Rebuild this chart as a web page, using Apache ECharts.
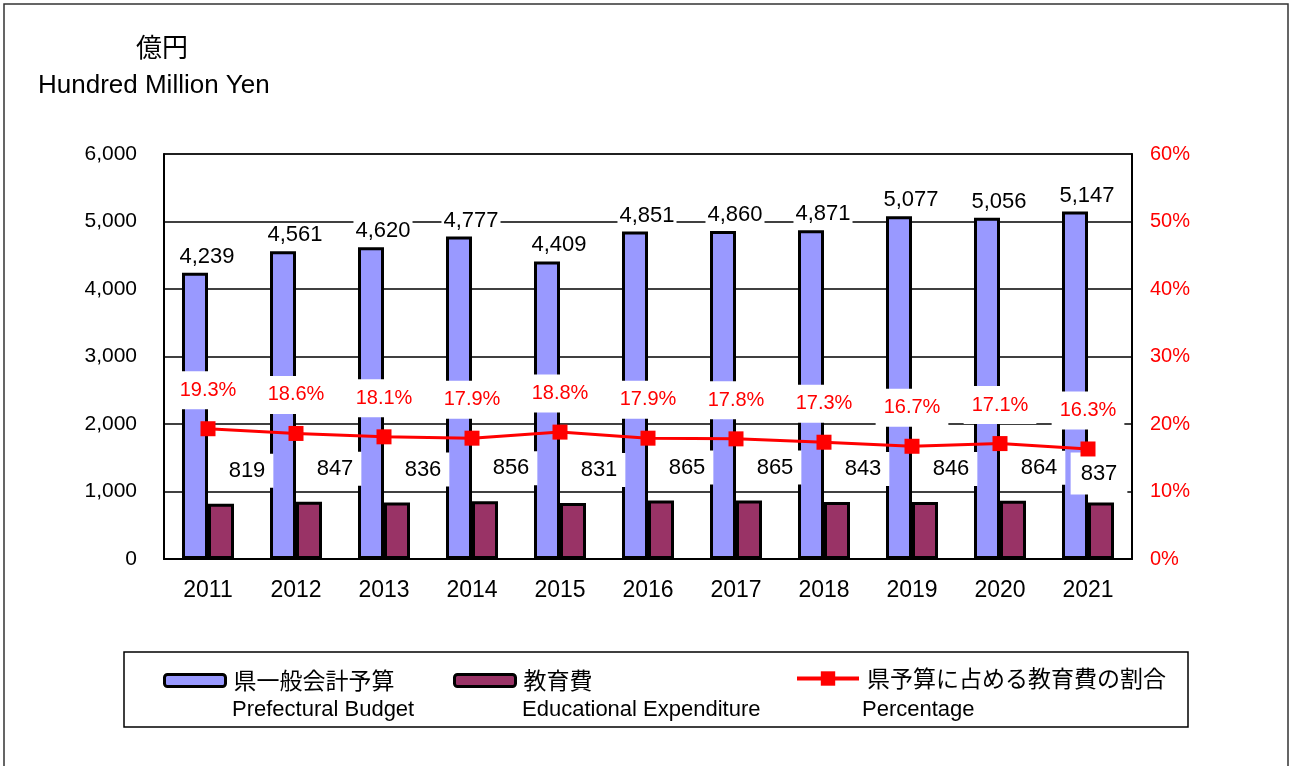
<!DOCTYPE html>
<html>
<head>
<meta charset="utf-8">
<script src="https://cdn.jsdelivr.net/npm/echarts@6/dist/echarts.min.js"></script>
<style>
  html, body { margin: 0; padding: 0; background: #fff; }
  #chart { width: 1290px; height: 766px; }
</style>
</head>
<body>
<div id="chart"></div>
<script>
  // 年度
  const years = ['2011', '2012', '2013', '2014', '2015', '2016', '2017', '2018', '2019', '2020', '2021'];
  // 県一般会計予算 (億円)
  const budget = [4239, 4561, 4620, 4777, 4409, 4851, 4860, 4871, 5077, 5056, 5147];
  // 教育費 (億円)
  const education = [819, 847, 836, 856, 831, 865, 865, 843, 846, 864, 837];
  // 県予算に占める教育費の割合 (%)
  const ratio = [19.3, 18.6, 18.1, 17.9, 18.8, 17.9, 17.8, 17.3, 16.7, 17.1, 16.3];

  const leftTicks = { min: 0, max: 6000, interval: 1000 };
  const rightTicks = { min: 0, max: 60, interval: 10 };

  const fontJP = '"Noto Sans CJK JP", sans-serif';
  const fontNum = '"Liberation Sans", Arial, sans-serif';

  const chart = echarts.init(document.getElementById('chart'));

  const legendBase = {
    top: 664,
    itemWidth: 61,
    itemHeight: 12,
    itemGap: 0,
    textStyle: { fontFamily: fontJP, fontSize: 23, color: '#000', padding: [0, 0, 0, 3] },
    selectedMode: false
  };

  // 最後の教育費ラベルだけ位置をずらす
  const eduData = education.map((v, i) => i === education.length - 1
    ? { value: v, label: { offset: [-2, -4], padding: [10, 10] } }
    : v);

  const option = {
    animation: false,
    backgroundColor: '#fff',
    grid: { left: 164, right: 158, top: 154, bottom: 207, show: true, borderColor: '#808080', borderWidth: 2 },
    legend: [
      Object.assign({}, legendBase, { left: 158, data: ['県一般会計予算'], itemStyle: { borderWidth: 3, borderColor: '#000' } }),
      Object.assign({}, legendBase, { left: 448, data: ['教育費'], itemStyle: { borderWidth: 3, borderColor: '#000' } }),
      Object.assign({}, legendBase, {
        left: 790, top: 662, itemWidth: 62, itemHeight: 18,
        lineStyle: { width: 4 },
        data: ['県予算に占める教育費の割合']
      })
    ],
    graphic: [
      { type: 'rect', shape: { x: 4, y: 4, width: 1284, height: 780 }, style: { fill: 'none', stroke: '#333', lineWidth: 1.5 }, silent: true },
      { type: 'rect', shape: { x: 124, y: 652, width: 1064, height: 75 }, style: { fill: 'none', stroke: '#000', lineWidth: 1.5 }, silent: true },
      { type: 'text', left: 136, top: 34, style: { text: '億円', font: '26px ' + fontJP, fill: '#000' } },
      { type: 'text', left: 38, top: 73, style: { text: 'Hundred Million Yen', font: '26px ' + fontNum, fill: '#000' } },
      { type: 'text', left: 232, top: 699, style: { text: 'Prefectural Budget', font: '22px ' + fontNum, fill: '#000' } },
      { type: 'text', left: 522, top: 699, style: { text: 'Educational Expenditure', font: '22px ' + fontNum, fill: '#000' } },
      { type: 'text', left: 862, top: 699, style: { text: 'Percentage', font: '22px ' + fontNum, fill: '#000' } }
    ],
    xAxis: {
      type: 'category',
      data: years,
      axisLine: { lineStyle: { color: '#000', width: 2 } },
      axisTick: { inside: true, length: 6, lineStyle: { color: '#000', width: 1.5 } },
      axisLabel: { fontFamily: fontNum, fontSize: 23, color: '#000', margin: 20 }
    },
    yAxis: [
      {
        type: 'value',
        min: leftTicks.min, max: leftTicks.max, interval: leftTicks.interval,
        axisLine: { show: true, lineStyle: { color: '#000', width: 2 } },
        axisTick: { show: false },
        splitLine: { lineStyle: { color: '#000', width: 1.5 } },
        axisLabel: {
          fontFamily: fontNum, fontSize: 21, color: '#000', margin: 27,
          formatter: v => v.toLocaleString('en-US')
        }
      },
      {
        type: 'value',
        min: rightTicks.min, max: rightTicks.max, interval: rightTicks.interval,
        axisLine: { show: true, lineStyle: { color: '#000', width: 2 } },
        axisTick: { show: false },
        splitLine: { show: false },
        axisLabel: { fontFamily: fontNum, fontSize: 20, color: '#f00', margin: 18, formatter: '{value}%' }
      }
    ],
    series: [
      {
        name: '県一般会計予算',
        type: 'bar',
        data: budget,
        barWidth: 26,
        barGap: 0,
        itemStyle: { color: '#9999ff', borderColor: '#000', borderWidth: 3 },
        label: {
          show: true, position: 'top', distance: 4,
          offset: [12, 0],
          fontFamily: fontNum, fontSize: 22, color: '#000',
          backgroundColor: '#fff', padding: [1, 2],
          formatter: p => p.value.toLocaleString('en-US')
        }
      },
      {
        name: '教育費',
        type: 'bar',
        data: eduData,
        barWidth: 26,
        barGap: 0,
        itemStyle: { color: '#993366', borderColor: '#000', borderWidth: 3 },
        label: {
          show: true, position: 'top', distance: 4,
          offset: [26, -12],
          fontFamily: fontNum, fontSize: 22, color: '#000',
          backgroundColor: '#fff', padding: [6, 8]
        }
      },
      {
        name: '県予算に占める教育費の割合',
        type: 'line',
        yAxisIndex: 1,
        data: ratio,
        symbol: 'rect',
        symbolSize: 15,
        itemStyle: { color: '#ff0000' },
        lineStyle: { color: '#ff0000', width: 3 },
        z: 5,
        label: {
          show: true, position: 'top', distance: 12,
          fontFamily: fontNum, fontSize: 20, color: '#ff0000',
          backgroundColor: '#fff', padding: [9, 8],
          formatter: p => p.value.toFixed(1) + '%'
        }
      }
    ]
  };

  chart.setOption(option);
  window.addEventListener('resize', function () {
    chart.resize();
  });
</script>
</body>
</html>
